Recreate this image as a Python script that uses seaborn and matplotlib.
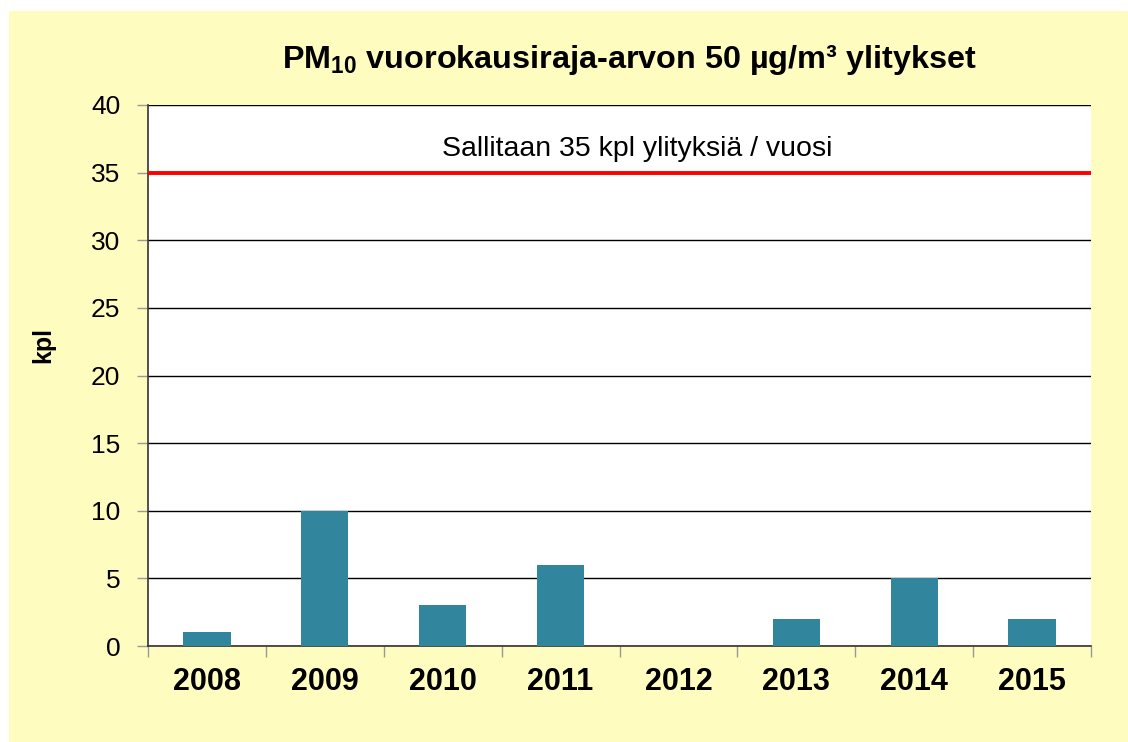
import matplotlib
matplotlib.use("Agg")
import matplotlib.pyplot as plt
import seaborn as sns
import pandas as pd
import numpy as np

# data
years = ["2008", "2009", "2010", "2011", "2012", "2013", "2014", "2015"]
exceedances = [1, 10, 3, 6, 0, 2, 5, 2]
limit = 35
limit_label = "Sallitaan 35 kpl ylityksiä / vuosi"
yticks = [0, 5, 10, 15, 20, 25, 30, 35, 40]

df = pd.DataFrame({"year": years, "kpl": exceedances})

sns.set_style("white")
plt.rcParams["font.family"] = ["Liberation Sans", "DejaVu Sans"]
plt.rcParams["mathtext.fontset"] = "custom"
plt.rcParams["mathtext.rm"] = "Liberation Sans"
plt.rcParams["mathtext.bf"] = "Liberation Sans:bold"
plt.rcParams["text.color"] = "black"
plt.rcParams["xtick.color"] = "black"
plt.rcParams["ytick.color"] = "black"

yellow = "#FFFCC0"
fig = plt.figure(figsize=(11.28, 7.42), dpi=100)
fig.patch.set_facecolor("white")
# yellow chart area with a thin white margin top/left
bg = plt.Rectangle((9 / 1128, 0), 1, 1 - 11 / 742, transform=fig.transFigure,
                   facecolor=yellow, edgecolor="none", zorder=-10)
fig.patches.append(bg)

ax = fig.add_axes([148 / 1128, (742 - 646) / 742, (1091 - 148) / 1128, (646 - 105) / 742])
ax.set_zorder(5)
ax.set_facecolor("white")

sns.barplot(data=df, x="year", y="kpl", color="#31869D", width=0.4,
            saturation=1, linewidth=0, ax=ax, zorder=3)

ax.set_ylim(0, 40)
ax.set_xlim(-0.5, len(years) - 0.5)
ax.set_yticks(yticks)
ax.yaxis.grid(True, color="black", linewidth=1)
ax.set_axisbelow(True)
for s in ["top", "right"]:
    ax.spines[s].set_visible(False)
for s in ["left", "bottom"]:
    ax.spines[s].set_color("#333333")
    ax.spines[s].set_linewidth(1.2)

ax.axhline(limit, color="#FF0000", linewidth=2.8, zorder=4)
ax.text(3.65, limit + 1.2, limit_label, ha="center", va="baseline",
        fontsize=20.5, color="black")

ax.tick_params(axis="y", labelsize=19, length=8, color="#999999", width=1, pad=12,
               left=True, labelcolor="black")
ax.tick_params(axis="x", which="major", length=0, labelsize=22, pad=15, labelcolor="black")
ax.set_xticks(np.arange(-0.5, len(years)), minor=True)
ax.tick_params(axis="x", which="minor", length=8, color="#999999", width=1, bottom=True)
for lab in ax.get_xticklabels():
    lab.set_fontweight("bold")

ax.set_xlabel("")
ax.set_ylabel("")
fig.text(43 / 1128, 1 - 345 / 742, "kpl", rotation=90, ha="center", va="center",
         fontsize=18, fontweight="bold", color="black")

fig.text(629 / 1128, 1 - 60 / 742,
         r"PM$_{\mathbf{10}}$ vuorokausiraja-arvon 50 µg/m³ ylitykset",
         ha="center", va="center", fontsize=23.3, fontweight="bold", color="black")

fig.savefig("out.png", dpi=100, facecolor=fig.get_facecolor())
